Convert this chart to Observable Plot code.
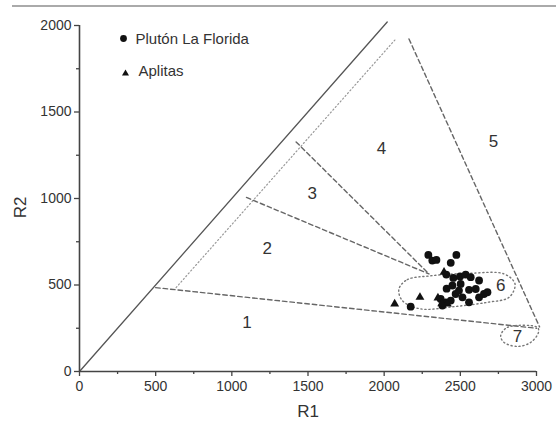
<!DOCTYPE html>
<html>
<head>
<meta charset="utf-8">
<script src="https://cdn.jsdelivr.net/npm/d3@7"></script>
<script src="https://cdn.jsdelivr.net/npm/@observablehq/plot@0.6"></script>
<style>
  html, body { margin: 0; padding: 0; background: #fff; }
  #wrap { position: relative; width: 556px; height: 421px; overflow: hidden; }
  #topline { position: absolute; top: 5px; left: 12px; right: 0; height: 2px; background: #aaa; }
  #chart { position: absolute; top: 0; left: 0; }
</style>
</head>
<body>
<div id="wrap"><div id="topline"></div><div id="chart"></div></div>
<script>
// Axis ticks
const ticksX = [0, 500, 1000, 1500, 2000, 2500, 3000];
const ticksY = [0, 500, 1000, 1500, 2000];
const minorX = [250, 750, 1250, 1750, 2250, 2750];
const minorY = [250, 750, 1250, 1750];

// Data: Plutón La Florida (circles)
const plutonR1 = [2290, 2316, 2343, 2474, 2437, 2408, 2454, 2498, 2535, 2568, 2623, 2448, 2502, 2557, 2601, 2655, 2623, 2469, 2514, 2557, 2371, 2404, 2437, 2382, 2174, 2678, 2491, 2410];
const plutonR2 = [674, 641, 645, 674, 628, 560, 541, 549, 560, 545, 526, 497, 506, 472, 477, 448, 429, 448, 429, 400, 419, 400, 410, 381, 375, 458, 468, 479];
// Data: Aplitas (triangles)
const aplitasR1 = [2069, 2235, 2353, 2393, 2415, 2378];
const aplitasR2 = [391, 429, 425, 574, 391, 392];

// Diagram boundaries [R1, R2]
const solidLine = [[0, 0], [2020, 2020]];
const dottedLine = [[634, 485], [2070, 1916]];
const dashed1 = [[500, 485], [3000, 250]];
const dashed2 = [[1096, 1006], [2294, 564]];
const dashed3 = [[1422, 1327], [2294, 564]];
const dashed5 = [[2163, 1922], [3020, 258]];
const field6 = [[2097, 477], [2152, 531], [2305, 553], [2568, 568], [2787, 564], [2859, 506], [2820, 429], [2678, 400], [2458, 375], [2239, 362], [2119, 410]];
const field7 = [[2765, 207], [2809, 255], [3006, 255], [3013, 226], [2962, 168], [2875, 145], [2787, 168]];

// Field labels
const fieldLabels = ["1", "2", "3", "4", "5", "6", "7"];
const fieldR1 = [1100, 1232, 1527, 1983, 2717, 2765, 2875];
const fieldR2 = [284, 709, 1031, 1288, 1331, 497, 201];

const pluton = plutonR1.map((r1, i) => ({R1: r1, R2: plutonR2[i]}));
const aplitas = aplitasR1.map((r1, i) => ({R1: r1, R2: aplitasR2[i]}));
const labels = fieldLabels.map((t, i) => ({t, R1: fieldR1[i], R2: fieldR2[i]}));

const font = "'Liberation Sans', Arial, sans-serif";
const seg = (pts, opts) => Plot.line(pts, {x: d => d[0], y: d => d[1], ...opts});

const chart = Plot.plot({
  width: 556,
  height: 421,
  marginLeft: 79,
  marginRight: 20,
  marginTop: 25,
  marginBottom: 50,
  style: {fontFamily: font, fontSize: "14px", color: "#333", background: "transparent", overflow: "visible"},
  x: {domain: [0, 3000]},
  y: {domain: [0, 2000]},
  marks: [
    seg(solidLine, {stroke: "#555", strokeWidth: 1.3}),
    seg(dottedLine, {stroke: "#999", strokeWidth: 1.2, strokeDasharray: "1.2,2.5"}),
    seg(dashed1, {stroke: "#666", strokeWidth: 1.4, strokeDasharray: "4.5,3"}),
    seg(dashed2, {stroke: "#666", strokeWidth: 1.4, strokeDasharray: "4.5,3"}),
    seg(dashed3, {stroke: "#666", strokeWidth: 1.4, strokeDasharray: "4.5,3"}),
    seg(dashed5, {stroke: "#666", strokeWidth: 1.4, strokeDasharray: "4.5,3"}),
    seg(field6, {stroke: "#777", strokeWidth: 1.4, strokeDasharray: "1.2,2.8", curve: "catmull-rom-closed"}),
    seg(field7, {stroke: "#777", strokeWidth: 1.4, strokeDasharray: "1.2,2.8", curve: "catmull-rom-closed"}),
    Plot.text(labels, {x: "R1", y: "R2", text: "t", fontSize: 17, fill: "#333"}),
    Plot.dot(pluton, {x: "R1", y: "R2", r: 3.9, fill: "#111", stroke: "none"}),
    Plot.dot(aplitas, {x: "R1", y: "R2", r: 3.3, symbol: "triangle", fill: "#111", stroke: "none"}),
    // axes
    Plot.ruleY([0], {stroke: "#444", strokeWidth: 1.6}),
    Plot.ruleX([0], {stroke: "#444", strokeWidth: 1.6}),
    Plot.axisX({ticks: ticksX, tickSize: 5, tickPadding: 5, tickFormat: d => `${d}`, label: null, stroke: "#444", strokeWidth: 1.3}),
    Plot.axisX({ticks: minorX, tickSize: 3, tickFormat: () => "", label: null, stroke: "#444", strokeWidth: 1.3}),
    Plot.axisY({ticks: ticksY, tickSize: 5, tickPadding: 3, tickFormat: d => `${d}`, label: null, stroke: "#444", strokeWidth: 1.3}),
    Plot.axisY({ticks: minorY, tickSize: 3, tickFormat: () => "", label: null, stroke: "#444", strokeWidth: 1.3}),
    Plot.text(["R1"], {frameAnchor: "bottom", dy: 40, lineAnchor: "middle", textAnchor: "middle", fontSize: 17, fill: "#333"}),
    Plot.text(["R2"], {frameAnchor: "left", dx: -59, dy: 9, rotate: -90, lineAnchor: "middle", textAnchor: "middle", fontSize: 17, fill: "#333"}),
    // legend
    Plot.dot([0], {frameAnchor: "top-left", dx: 44, dy: 13, r: 3.4, fill: "#111", stroke: "none"}),
    Plot.text(["Plutón La Florida"], {frameAnchor: "top-left", dx: 56, dy: 14, textAnchor: "start", lineAnchor: "middle", fontSize: 15, fill: "#333"}),
    Plot.dot([0], {frameAnchor: "top-left", dx: 46, dy: 48, r: 2.6, symbol: "triangle", fill: "#111", stroke: "none"}),
    Plot.text(["Aplitas"], {frameAnchor: "top-left", dx: 59, dy: 46, textAnchor: "start", lineAnchor: "middle", fontSize: 15, fill: "#333"})
  ]
});
document.getElementById("chart").appendChild(chart);
</script>
</body>
</html>
